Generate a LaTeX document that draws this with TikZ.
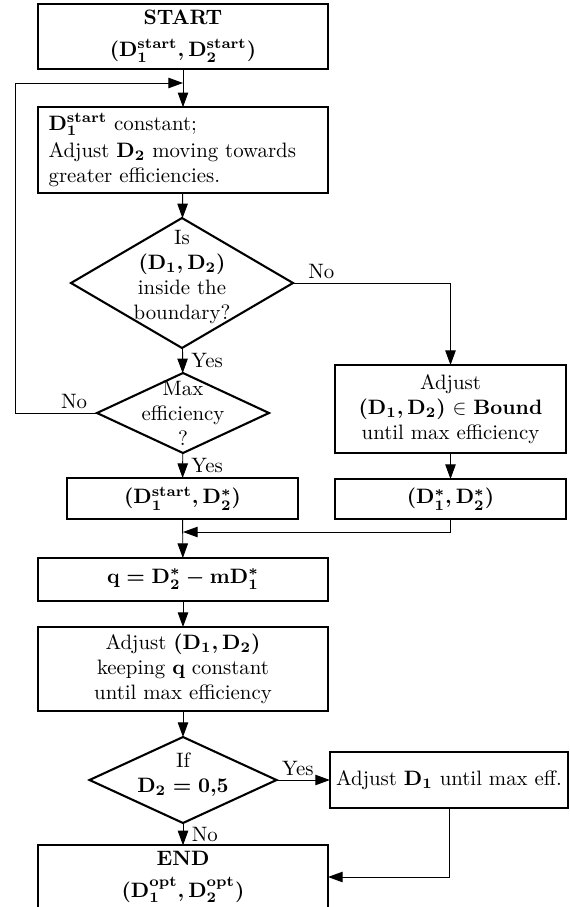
\documentclass[tikz,border=0pt]{standalone}
\usepackage{amsmath,amssymb}
\usetikzlibrary{shapes.geometric,arrows.meta}
\tikzset{
  flowbox/.style={draw, line width=1pt, rectangle, align=center, inner sep=3pt, outer sep=0pt},
  decision/.style={draw, line width=1pt, diamond, inner sep=0pt, outer sep=0pt},
  decisiontext/.style={align=center, inner sep=0pt},
  conn/.style={line width=0.45pt},
  arr/.style={conn, -{Triangle[length=7pt,width=5pt]}},
  lbl/.style={inner sep=2pt}
}
\newcommand{\flowbox}[7][]{\node[flowbox, minimum width=#5*0.48pt, minimum height=#6*0.48pt, #1] (#2) at (#3,#4) {#7};}
\newcommand{\decision}[7][]{\node[decision, minimum width=#5*0.48pt, minimum height=#6*0.48pt] (#2) at (#3,#4) {};
  \node[decisiontext, #1] (#2txt) at (#2.center) {#7};}
\newcommand{\bmath}[1]{{\boldmath$#1$}}

\begin{document}
\begin{tikzpicture}[x=0.48pt, y=-0.48pt]
                \useasboundingbox (0,0) rectangle (569,907);
                % left column
                \flowbox{start}{183}{36.5}{290}{63}{\textbf{START}\\[3pt] \bmath{(\mathbf{D_1^{start}},\mathbf{D_2^{start}})}}
                \flowbox[text width=129pt, align=left, inner xsep=4.8pt]{fixdone}{183}{150}{290}{84}{$\mathbf{D_1^{start}}$ constant;\\[1pt] Adjust $\mathbf{D_2}$ moving towards\\ greater efficiencies.}
                \decision[yshift=3pt]{inside}{182}{283}{222}{130}{Is\\ \bmath{(\mathbf{D_1},\mathbf{D_2})}\\ inside the\\ boundary?}
                \decision{maxeff}{183}{413}{172}{80}{Max\\ efficiency\\ ?}
                \flowbox{fixpt}{182.5}{498.5}{231}{41}{\bmath{(\mathbf{D_1^{start}},\mathbf{D_2^*})}}
                % right column
                \flowbox{bound}{450.5}{409}{231}{88}{Adjust\\ \bmath{(\mathbf{D_1},\mathbf{D_2})} $\in$ $\mathbf{Bound}$\\ until max efficiency}
                \flowbox{starpt}{450.5}{499}{231}{40}{\bmath{(\mathbf{D_1^*},\mathbf{D_2^*})}}
                % lower part
                \flowbox{qline}{183}{579.5}{290}{43}{\bmath{\mathbf{q} = \mathbf{D_2^*} - \mathbf{m}\mathbf{D_1^*}}}
                \flowbox{keepq}{183}{669}{290}{84}{Adjust \bmath{(\mathbf{D_1},\mathbf{D_2})}\\ keeping $\mathbf{q}$ constant\\ until max efficiency}
                \decision[yshift=2.4pt]{half}{183}{780}{187}{86}{If\\ \bmath{\mathbf{D_2} = \mathbf{0{,}5}}}
                \flowbox{adjone}{449}{780}{232}{56}{Adjust $\mathbf{D_1}$ until max eff.}
                \flowbox{finish}{183}{877}{290}{58}{\textbf{END}\\[3pt] \bmath{(\mathbf{D_1^{opt}},\mathbf{D_2^{opt}})}}

                \coordinate (loopin) at (183,83);
                \coordinate (loopx) at (15,83);
                \coordinate (merge) at (183,532);

                % connectors
                \draw[arr] (start) -- (fixdone);
                \draw[arr] (fixdone) -- (inside);
                \draw[arr] (inside) -- node[lbl,right,xshift=2pt] {Yes} (maxeff);
                \draw[arr] (maxeff) -- node[lbl,right,xshift=2pt] {Yes} (fixpt);
                \draw[arr] (maxeff.west) -- node[lbl,above,pos=0.28] {No} (maxeff.west -| loopx) -- (loopx) -- (loopin);
                \draw[arr] (inside.east) -- node[lbl,above,pos=0.18] {No} (inside.east -| bound.north) -- (bound.north);
                \draw[arr] (bound) -- (starpt);
                \draw[arr] (starpt.south) |- (merge);
                \draw[arr] (fixpt) -- (qline);
                \draw[arr] (qline) -- (keepq);
                \draw[arr] (keepq) -- (half);
                \draw[arr] (half.east) -- node[lbl,above,pos=0.4] {Yes} (adjone.west);
                \draw[arr] (half) -- node[lbl,right,xshift=2pt] {No} (finish);
                \draw[arr] (adjone.south) |- (finish.east);
\end{tikzpicture}
\end{document}
